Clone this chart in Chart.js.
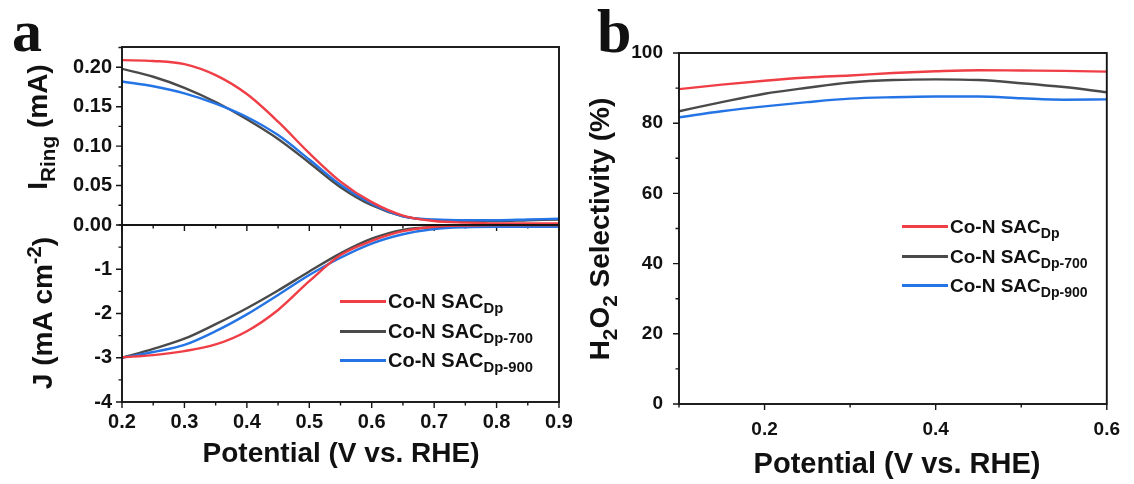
<!DOCTYPE html>
<html>
<head>
<meta charset="utf-8">
<script src="https://cdn.jsdelivr.net/npm/chart.js@4.4.1/dist/chart.umd.min.js"></script>
<style>
  html, body { margin: 0; padding: 0; background: #fff; }
  #page { position: relative; width: 1134px; height: 484px; overflow: hidden;
          font-family: "Liberation Sans", Arial, sans-serif; font-weight: bold; color: #111; }
  #page canvas { position: absolute; left: 0; top: 0; }
  .txt { position: absolute; left: 0; top: 0; white-space: nowrap; line-height: 1; transform-origin: 0 0; }
  .txt sub { font-size: 0.74em; line-height: 0; vertical-align: -0.36em; }
  .txt sup { font-size: 0.72em; line-height: 0; vertical-align: 0.55em; }
  .key { position: absolute; height: 3px; }
</style>
</head>
<body>
<div id="page">
  <canvas id="ringChart" width="1134" height="484"></canvas>
  <canvas id="diskChart" width="1134" height="484"></canvas>
  <canvas id="selChart" width="1134" height="484"></canvas>
</div>
<script>
// RRDE data, potential in V vs. RHE
const potentialA = [0.20, 0.25, 0.30, 0.35, 0.40, 0.45, 0.50, 0.55, 0.60, 0.65, 0.70, 0.75, 0.80, 0.85, 0.90];
const ringDp    = [0.209, 0.208, 0.204, 0.190, 0.166, 0.131, 0.091, 0.055, 0.029, 0.012, 0.005, 0.003, 0.002, 0.002, 0.002];
const ringDp700 = [0.198, 0.188, 0.174, 0.156, 0.134, 0.109, 0.079, 0.048, 0.025, 0.011, 0.006, 0.005, 0.005, 0.006, 0.007];
const ringDp900 = [0.182, 0.176, 0.167, 0.154, 0.137, 0.114, 0.083, 0.051, 0.027, 0.011, 0.007, 0.006, 0.006, 0.007, 0.008];
const diskDp    = [-2.99, -2.94, -2.85, -2.70, -2.40, -1.92, -1.27, -0.68, -0.36, -0.14, -0.04, -0.01, 0.00, 0.00, 0.00];
const diskDp700 = [-3.00, -2.80, -2.57, -2.24, -1.88, -1.48, -1.05, -0.64, -0.31, -0.11, -0.05, -0.04, -0.04, -0.04, -0.04];
const diskDp900 = [-3.00, -2.87, -2.71, -2.40, -2.02, -1.58, -1.13, -0.74, -0.42, -0.21, -0.09, -0.05, -0.04, -0.04, -0.04];

// H2O2 selectivity
const potentialB = [0.10, 0.15, 0.20, 0.25, 0.30, 0.35, 0.40, 0.45, 0.50, 0.55, 0.60];
const selDp    = [89.7, 91.0, 92.1, 93.0, 93.6, 94.3, 94.8, 95.1, 95.0, 94.9, 94.7];
const selDp700 = [83.4, 86.0, 88.4, 90.1, 91.6, 92.3, 92.5, 92.3, 91.4, 90.3, 88.8];
const selDp900 = [81.7, 83.4, 84.8, 86.0, 87.0, 87.4, 87.6, 87.6, 87.1, 86.7, 86.8];

const samples = ['Co-N SAC<sub>Dp</sub>', 'Co-N SAC<sub>Dp-700</sub>', 'Co-N SAC<sub>Dp-900</sub>'];
const colors = ['#ef3e45', '#4a4a4a', '#2574e6'];

// axis ticks
const potTicksA = [0.2, 0.3, 0.4, 0.5, 0.6, 0.7, 0.8, 0.9];
const ringTicks = [0, 0.05, 0.10, 0.15, 0.20];
const diskTicks = [-4, -3, -2, -1];
const potTicksB = [0.2, 0.4, 0.6];
const selTicks = [0, 20, 40, 60, 80, 100];

const W = 1134, H = 484, AXW = 80, AXH = 50;
const FONT = '"Liberation Sans", Arial, sans-serif';

const pts = (xs, ys) => xs.map((x, i) => ({ x, y: ys[i] }));
const halfSteps = (ticks, lo, hi) => {
  const step = ticks[1] - ticks[0];
  const out = [];
  for (let v = ticks[0] - step / 2; v <= hi + 1e-9; v += step / 2) if (v >= lo - 1e-9) out.push(+v.toFixed(4));
  return out;
};

// box frame plus outward major/minor tick marks
const frameTicks = {
  id: 'frameTicks',
  afterDatasetsDraw(chart, args, opts) {
    const { ctx, chartArea: a } = chart;
    const sx = chart.scales.x, sy = chart.scales.y;
    ctx.save();
    ctx.strokeStyle = '#151515';
    ctx.lineWidth = 1.4;
    ctx.beginPath();
    const xt = (vals, len) => vals.forEach(v => {
      const p = sx.getPixelForValue(v);
      ctx.moveTo(p, a.bottom); ctx.lineTo(p, a.bottom + len);
    });
    const yt = (vals, len) => vals.forEach(v => {
      const p = sy.getPixelForValue(v);
      ctx.moveTo(a.left, p); ctx.lineTo(a.left - len, p);
    });
    xt(opts.xMinor, 3.5); xt(opts.xMajor, 6);
    yt(opts.yMinor, 3.5); yt(opts.yMajor, 6);
    ctx.stroke();
    ctx.lineWidth = 1.9;
    ctx.strokeRect(a.left, a.top, a.right - a.left, a.bottom - a.top);
    ctx.restore();
  }
};

function makeChart(id, box, cfg) {
  const xh = cfg.xLabels ? AXH : 0;
  const setTicks = vals => s => { s.ticks = vals.map(v => ({ value: v })); };
  const xs = cfg.x, ys = cfg.y;
  return new Chart(document.getElementById(id), {
    type: 'line',
    data: {
      datasets: cfg.series.map((ser, i) => ({
        data: pts(cfg.xs, ser), borderColor: cfg.colors[i], borderWidth: 2.4,
        pointRadius: 0, fill: false, cubicInterpolationMode: 'monotone'
      }))
    },
    options: {
      responsive: false, animation: false, devicePixelRatio: 1,
      layout: { padding: { left: box.left - AXW, top: box.top, right: W - box.right, bottom: H - box.bottom - xh } },
      plugins: { legend: { display: false }, tooltip: { enabled: false },
        frameTicks: { xMajor: xs.ticks, xMinor: xs.minor, yMajor: ys.ticks, yMinor: ys.minor } },
      scales: {
        x: {
          type: 'linear', min: xs.min, max: xs.max,
          grid: { display: false, drawTicks: false }, border: { display: false },
          afterBuildTicks: setTicks(xs.ticks),
          afterFit: s => { s.height = xh; },
          ticks: { display: !!cfg.xLabels, padding: xs.pad, color: '#111',
                   font: { family: FONT, size: cfg.tickSize, weight: 'bold' },
                   callback: v => v.toFixed(xs.dec) }
        },
        y: {
          type: 'linear', min: ys.min, max: ys.max,
          grid: { display: false, drawTicks: false }, border: { display: false },
          afterBuildTicks: setTicks(ys.labelled),
          afterFit: s => { s.width = AXW; },
          ticks: { padding: ys.pad, color: '#111',
                   font: { family: FONT, size: cfg.tickSize, weight: 'bold' },
                   callback: v => v.toFixed(ys.dec) }
        }
      }
    },
    plugins: [frameTicks]
  });
}

// panel a, ring current (upper half)
makeChart('ringChart', { left: 122, top: 47, right: 559, bottom: 225 }, {
  xs: potentialA, series: [ringDp, ringDp900, ringDp700], colors: [colors[0], colors[2], colors[1]],
  tickSize: 20, xLabels: false,
  x: { min: 0.2, max: 0.9, ticks: potTicksA, minor: halfSteps(potTicksA, 0.2, 0.9), dec: 1, pad: 10 },
  y: { min: 0, max: 0.2257, ticks: ringTicks, labelled: ringTicks, minor: halfSteps(ringTicks, 0, 0.2257), dec: 2, pad: 10 }
});

// panel a, disk current density (lower half)
makeChart('diskChart', { left: 122, top: 225, right: 559, bottom: 402 }, {
  xs: potentialA, series: [diskDp, diskDp900, diskDp700], colors: [colors[0], colors[2], colors[1]],
  tickSize: 20, xLabels: true,
  x: { min: 0.2, max: 0.9, ticks: potTicksA, minor: halfSteps(potTicksA, 0.2, 0.9), dec: 1, pad: 8 },
  y: { min: -4, max: 0, ticks: diskTicks, labelled: diskTicks, minor: halfSteps(diskTicks, -4, 0), dec: 0, pad: 10 }
});

// panel b, H2O2 selectivity
makeChart('selChart', { left: 679, top: 53, right: 1114, bottom: 404 }, {
  xs: potentialB, series: [selDp, selDp700, selDp900], colors: colors,
  tickSize: 19, xLabels: true,
  x: { min: 0.1, max: 0.6, ticks: potTicksB, minor: halfSteps(potTicksB, 0.1, 0.6), dec: 1, pad: 14 },
  y: { min: 0, max: 100, ticks: selTicks, labelled: selTicks, minor: halfSteps(selTicks, 0, 100), dec: 0, pad: 16 }
});

// titles, panel letters and legends as html text
const page = document.getElementById('page');
function placeText(html, o) {
  const el = document.createElement('div');
  el.className = 'txt';
  el.innerHTML = html;
  el.style.fontSize = o.size + 'px';
  if (o.family) el.style.fontFamily = o.family;
  const b = o.size * 0.8465;
  if (o.rotate) el.style.transform = `translate(${o.x - b}px, ${o.y}px) rotate(-90deg) translateX(-50%)`;
  else if (o.center) el.style.transform = `translate(${o.x}px, ${o.y - b}px) translateX(-50%)`;
  else el.style.transform = `translate(${o.x}px, ${o.y - b}px)`;
  page.appendChild(el);
}

const SERIF = '"Liberation Serif", "Times New Roman", serif';
placeText('a', { x: 12, y: 52, size: 60, family: SERIF });
placeText('b', { x: 597, y: 52, size: 62, family: SERIF });

placeText('Potential (V vs. RHE)', { x: 341, y: 463, size: 28, center: true });
placeText('Potential (V vs. RHE)', { x: 897, y: 474, size: 29, center: true });
placeText('I<sub>Ring</sub> (mA)', { x: 48, y: 127, size: 28, rotate: true });
placeText('J (mA cm<sup>-2</sup>)', { x: 53, y: 313, size: 28, rotate: true });
placeText('H<sub>2</sub>O<sub>2</sub> Selectivity (%)', { x: 610, y: 229, size: 28, rotate: true });

function legend(x, ys, size) {
  samples.forEach((name, i) => {
    const key = document.createElement('div');
    key.className = 'key';
    key.style.cssText += `left:${x}px;top:${ys[i] - 1.5}px;width:46px;background:${colors[i]};`;
    page.appendChild(key);
    placeText(name, { x: x + 48, y: ys[i] + size * 0.35, size });
  });
}
legend(340, [301, 331, 360], 20);
legend(902, [226, 256, 285], 19);
</script>
</body>
</html>
